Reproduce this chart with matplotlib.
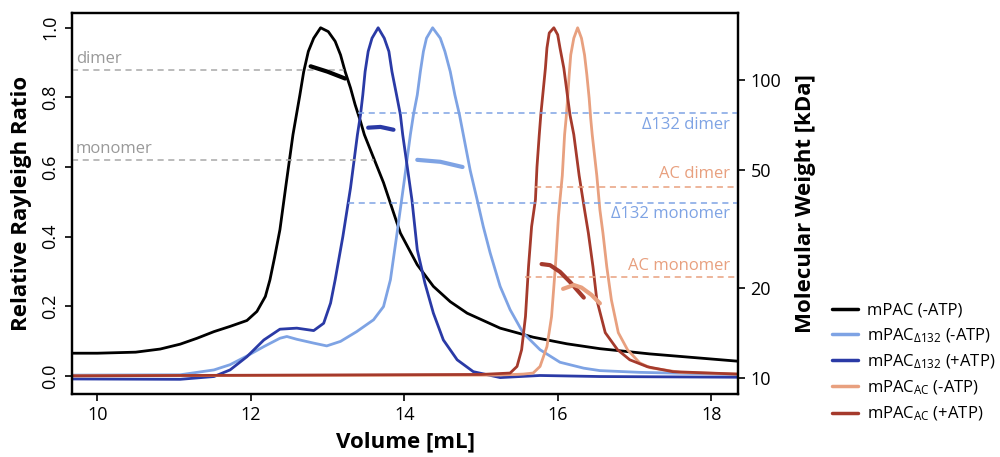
import numpy as np
import matplotlib
matplotlib.use("Agg")
import matplotlib.pyplot as plt

plt.rcParams['font.family'] = ['Open Sans', 'DejaVu Sans']
plt.rcParams['mathtext.default'] = 'regular'

# --- elution traces: volume [mL] vs relative Rayleigh ratio ---
mpac_v = [9.67, 10.0, 10.5, 10.82, 11.08, 11.30, 11.52, 11.73, 11.95, 12.08, 12.19, 12.25,
          12.31, 12.38, 12.46, 12.55, 12.58, 12.64, 12.69, 12.75, 12.82, 12.91, 13.01,
          13.10, 13.17, 13.23, 13.30, 13.36, 13.43, 13.48, 13.73, 13.95, 14.17, 14.38,
          14.60, 14.82, 15.25, 15.68, 16.12, 16.55, 17.2, 18.35]
mpac_y = [0.065, 0.065, 0.068, 0.077, 0.091, 0.108, 0.127, 0.142, 0.159, 0.185, 0.228, 0.276,
          0.34, 0.42, 0.55, 0.693, 0.731, 0.807, 0.874, 0.932, 0.970, 1.0, 0.989,
          0.961, 0.922, 0.874, 0.827, 0.779, 0.731, 0.693, 0.555, 0.41, 0.319, 0.257,
          0.213, 0.18, 0.137, 0.111, 0.092, 0.078, 0.063, 0.042]

d132_v = [9.67, 11.08, 11.52, 11.73, 11.95, 12.17, 12.38, 12.47, 12.60, 12.82, 12.99, 13.17,
          13.38, 13.60, 13.73, 13.82, 13.9, 14.0, 14.08, 14.12, 14.17, 14.21, 14.25, 14.29,
          14.37, 14.47, 14.53, 14.60, 14.66, 14.72, 14.77, 14.86, 14.95, 15.03, 15.12,
          15.25, 15.38, 15.55, 15.77, 16.03, 16.34, 16.55, 17.07, 18.35]
d132_y = [0.002, 0.003, 0.017, 0.032, 0.057, 0.084, 0.108, 0.113, 0.105, 0.094, 0.086, 0.099,
          0.127, 0.161, 0.199, 0.276, 0.40, 0.56, 0.693, 0.75, 0.807, 0.874, 0.932, 0.97,
          1.0, 0.97, 0.932, 0.874, 0.807, 0.75, 0.693, 0.59, 0.506, 0.429, 0.353,
          0.257, 0.19, 0.123, 0.075, 0.039, 0.022, 0.015, 0.01, 0.004]

d132atp_v = [9.67, 11.08, 11.52, 11.73, 11.95, 12.17, 12.38, 12.60, 12.82, 12.95, 13.04, 13.10,
             13.2, 13.3, 13.39, 13.43, 13.46, 13.49, 13.53, 13.58, 13.66, 13.74, 13.80,
             13.84, 13.90, 13.95, 13.98, 14.04, 14.10, 14.17, 14.27, 14.38, 14.51, 14.69,
             14.90, 15.25, 15.77, 16.55, 18.35]
d132atp_y = [-0.009, -0.01, -0.002, 0.017, 0.055, 0.103, 0.134, 0.137, 0.130, 0.151, 0.209, 0.276,
             0.40, 0.54, 0.693, 0.75, 0.807, 0.874, 0.932, 0.97, 1.0, 0.97, 0.932,
             0.874, 0.807, 0.75, 0.693, 0.60, 0.506, 0.362, 0.266, 0.18, 0.103, 0.046,
             0.012, -0.005, 0.001, -0.002, -0.004]

ac_v = [9.67, 15.2, 15.55, 15.68, 15.77, 15.86, 15.92, 15.97, 16.01, 16.03, 16.06, 16.09,
        16.11, 16.13, 16.15, 16.17, 16.21, 16.26, 16.31, 16.35, 16.38, 16.41, 16.43,
        16.45, 16.51, 16.55, 16.59, 16.64, 16.70, 16.79, 16.91, 17.07, 17.21, 17.6, 18.35]
ac_y = [0.0, 0.002, 0.005, 0.008, 0.027, 0.084, 0.17, 0.314, 0.458, 0.506, 0.575, 0.693,
        0.74, 0.798, 0.865, 0.922, 0.97, 1.0, 0.97, 0.922, 0.865, 0.798, 0.74,
        0.693, 0.575, 0.477, 0.41, 0.313, 0.218, 0.124, 0.075, 0.037, 0.023, 0.01, 0.005]

acatp_v = [9.67, 15.0, 15.38, 15.47, 15.53, 15.58, 15.62, 15.66, 15.71, 15.73, 15.76, 15.78,
           15.81, 15.84, 15.86, 15.89, 15.95, 16.0, 16.03, 16.08, 16.12, 16.16, 16.21,
           16.28, 16.35, 16.40, 16.46, 16.51, 16.62, 16.78, 16.94, 17.17, 17.5, 18.35]
acatp_y = [0.0, 0.004, 0.008, 0.027, 0.075, 0.170, 0.314, 0.429, 0.506, 0.6, 0.693, 0.75,
           0.817, 0.884, 0.942, 0.985, 1.0, 0.98, 0.942, 0.884, 0.817, 0.75, 0.693,
           0.575, 0.477, 0.41, 0.313, 0.218, 0.124, 0.075, 0.046, 0.026, 0.012, 0.005]

# --- molar mass across the peaks [kDa] ---
mw_mpac_v, mw_mpac = [12.78, 13.0, 13.23], [111, 106.5, 101]
mw_d132atp_v, mw_d132atp = [13.53, 13.69, 13.86], [69.1, 69.5, 68.0]
mw_d132_v, mw_d132 = [14.17, 14.47, 14.76], [53.9, 53.1, 51.0]
mw_acatp_v, mw_acatp = [15.79, 15.9, 16.03, 16.16, 16.34], [24.1, 23.9, 22.7, 21.0, 18.6]
mw_ac_v, mw_ac = [16.07, 16.21, 16.31, 16.44, 16.55], [19.9, 20.5, 20.1, 19.0, 17.8]

# theoretical masses: (label, kDa, start volume, end volume)
ref_gray = [("dimer", 108, 9.67, 13.22), ("monomer", 54, 9.67, 13.6)]
ref_d132 = [("Δ132 dimer", 77.4, 13.4, 18.35), ("Δ132 monomer", 38.7, 13.27, 18.35)]
ref_ac = [("AC dimer", 43.8, 15.7, 18.35), ("AC monomer", 21.8, 15.58, 18.35)]

labels = ["mPAC (-ATP)", "mPAC$_{Δ132}$ (-ATP)", "mPAC$_{Δ132}$ (+ATP)",
          "mPAC$_{AC}$ (-ATP)", "mPAC$_{AC}$ (+ATP)"]

c_black = "black"
c_lblue = "#7ea3e4"
c_dblue = "#2a3aa6"
c_lorange = "#e8a07f"
c_dred = "#a53a2c"
c_gray = "#a8a8a8"

fig = plt.figure(figsize=(10, 4.57), dpi=100)
ax = fig.add_axes([0.072, 0.138, 0.666, 0.834])
ax2 = ax.twinx()

lw = 2
kw = dict(lw=lw, solid_joinstyle="round", solid_capstyle="round")
l1, = ax.plot(mpac_v, mpac_y, color=c_black, **kw)
l2, = ax.plot(d132_v, d132_y, color=c_lblue, **kw)
l3, = ax.plot(d132atp_v, d132atp_y, color=c_dblue, **kw)
l4, = ax.plot(ac_v, ac_y, color=c_lorange, **kw)
l5, = ax.plot(acatp_v, acatp_y, color=c_dred, **kw)

ax.set_xlim(9.67, 18.35)
ax.set_ylim(-0.052, 1.043)
ax.set_xticks([10, 12, 14, 16, 18])
ax.set_yticks([0.0, 0.2, 0.4, 0.6, 0.8, 1.0])
ax.set_yticklabels(["0.0", "0.2", "0.4", "0.6", "0.8", "1.0"], rotation=90, va="center")
ax.tick_params(labelsize=13, length=5, width=1.2, pad=4)
ax.set_xlabel("Volume [mL]", fontsize=16, fontweight="bold", labelpad=5)
ax.set_ylabel("Relative Rayleigh Ratio", fontsize=16, fontweight="bold", labelpad=7)

ax2.set_yscale("log")
ax2.set_ylim(8.84, 167.8)
ax2.set_yticks([10, 20, 50, 100])
ax2.set_yticklabels(["10", "20", "50", "100"])
ax2.yaxis.set_minor_locator(matplotlib.ticker.NullLocator())
ax2.tick_params(labelsize=13, length=5, width=1.2, pad=4)
ax2.set_ylabel("Molecular Weight [kDa]", fontsize=16, fontweight="bold", labelpad=10)

for a in (ax, ax2):
    for s in a.spines.values():
        s.set_linewidth(1.6)

# reference lines + labels
for name, mw, v0, v1 in ref_gray:
    ax2.plot([v0, v1], [mw, mw], color=c_gray, lw=1.1, ls=(0, (4, 3)))
for name, mw, v0, v1 in ref_d132:
    ax2.plot([v0, v1], [mw, mw], color=c_lblue, lw=1.1, ls=(0, (4, 3)))
for name, mw, v0, v1 in ref_ac:
    ax2.plot([v0, v1], [mw, mw], color=c_lorange, lw=1.1, ls=(0, (4, 3)))

ax2.text(9.72, 117.6, "dimer", color="#999999", fontsize=12, va="center", ha="left")
ax2.text(9.72, 58.7, "monomer", color="#999999", fontsize=12, va="center", ha="left")
ax2.text(18.25, 70.7, "Δ132 dimer", color=c_lblue, fontsize=12, va="center", ha="right")
ax2.text(18.25, 35.5, "Δ132 monomer", color=c_lblue, fontsize=12, va="center", ha="right")
ax2.text(18.25, 48.4, "AC dimer", color=c_lorange, fontsize=12, va="center", ha="right")
ax2.text(18.25, 23.8, "AC monomer", color=c_lorange, fontsize=12, va="center", ha="right")

# molar mass segments
mkw = dict(lw=3, solid_joinstyle="round", solid_capstyle="round")
ax2.plot(mw_mpac_v, mw_mpac, color=c_black, **mkw)
ax2.plot(mw_d132atp_v, mw_d132atp, color=c_dblue, **mkw)
ax2.plot(mw_d132_v, mw_d132, color=c_lblue, **mkw)
ax2.plot(mw_acatp_v, mw_acatp, color=c_dred, **mkw)
ax2.plot(mw_ac_v, mw_ac, color=c_lorange, **mkw)

leg = ax.legend([l1, l2, l3, l4, l5], labels, loc="upper left",
                bbox_to_anchor=(0.825, 0.352), bbox_transform=fig.transFigure,
                frameon=False, fontsize=12, handlelength=1.6, handletextpad=0.5,
                labelspacing=0.46, borderaxespad=0)
for h in leg.get_lines():
    h.set_linewidth(2.5)

fig.savefig("out.png", dpi=100)
